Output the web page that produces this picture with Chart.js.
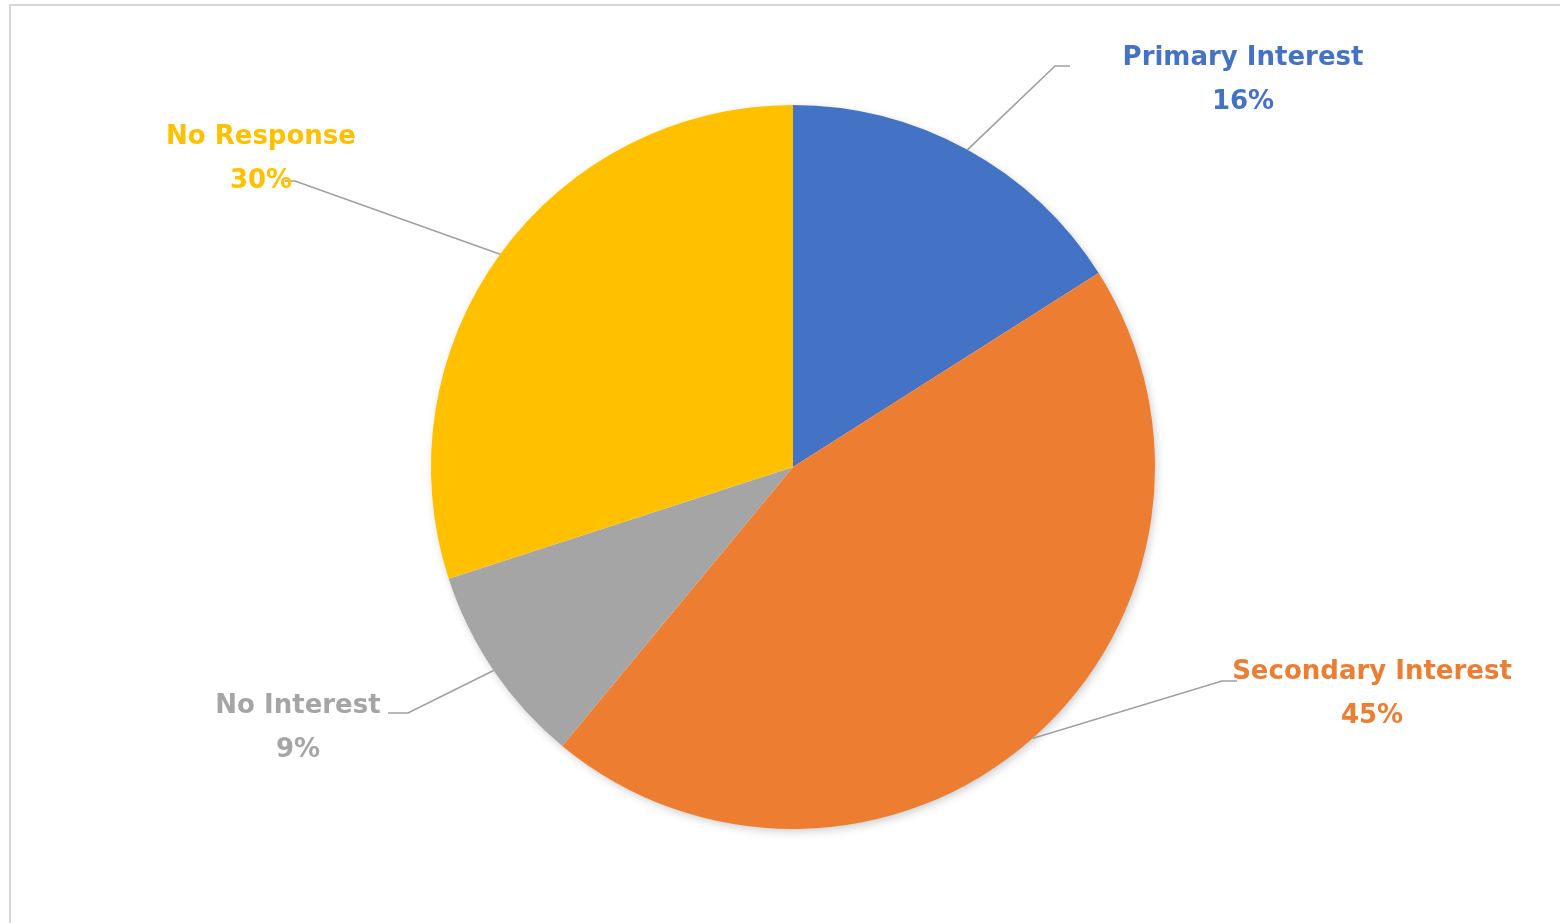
<!DOCTYPE html>
<html>
<head>
<meta charset="utf-8">
<script src="https://cdn.jsdelivr.net/npm/chart.js@4.4.0/dist/chart.umd.min.js"></script>
<style>
  html, body { margin: 0; padding: 0; background: #ffffff; }
  #frame { position: absolute; left: 9px; top: 4px; width: 1560px; height: 930px; border-left: 2px solid #d6d6d6; border-top: 2px solid #d6d6d6; box-sizing: border-box; }
  #wrap { position: absolute; left: 0; top: 0; width: 1560px; height: 923px; }
</style>
</head>
<body>
<div id="frame"></div>
<div id="wrap"><canvas id="c" width="1560" height="923"></canvas></div>
<script>
const categories = ["Primary Interest", "Secondary Interest", "No Interest", "No Response"];
const values = [16, 45, 9, 30];
const colors = ["#4472C4", "#ED7D31", "#A5A5A5", "#FFC000"];

// label layout: offsets from pie centre (px): text centre of first line, elbow point, end of horizontal segment
const labelLayout = [
  { tx: 450, ty: -409, ex: 262, ey: -401, hx: 277 },
  { tx: 579, ty: 205, ex: 429, ey: 214, hx: 444 },
  { tx: -495, ty: 239, ex: -385, ey: 246, hx: -405 },
  { tx: -532, ty: -330, ex: -498, ey: -286, hx: -508 }
];

const shadowPlugin = {
  id: 'pieShadow',
  beforeDatasetsDraw(chart) {
    const arc = chart.getDatasetMeta(0).data[0];
    if (!arc) return;
    const { x, y, outerRadius } = arc.getProps(['x', 'y', 'outerRadius'], true);
    const ctx = chart.ctx;
    ctx.save();
    ctx.shadowColor = 'rgba(0,0,0,0.22)';
    ctx.shadowBlur = 10;
    ctx.shadowOffsetX = 2;
    ctx.shadowOffsetY = 3;
    ctx.fillStyle = '#ffffff';
    ctx.beginPath();
    ctx.arc(x, y, outerRadius - 1, 0, Math.PI * 2);
    ctx.fill();
    ctx.restore();
  }
};

const labelPlugin = {
  id: 'leaderLabels',
  afterDatasetsDraw(chart) {
    const ctx = chart.ctx;
    const meta = chart.getDatasetMeta(0);
    const total = values.reduce((a, b) => a + b, 0);
    meta.data.forEach((arc, i) => {
      const p = arc.getProps(['x', 'y', 'startAngle', 'endAngle', 'outerRadius'], true);
      const mid = (p.startAngle + p.endAngle) / 2;
      const sx = p.x + Math.cos(mid) * p.outerRadius;
      const sy = p.y + Math.sin(mid) * p.outerRadius;
      const L = labelLayout[i];
      ctx.save();
      ctx.strokeStyle = '#a0a0a4';
      ctx.lineWidth = 1.7;
      ctx.beginPath();
      ctx.moveTo(sx, sy);
      ctx.lineTo(p.x + L.ex, p.y + L.ey);
      ctx.lineTo(p.x + L.hx, p.y + L.ey);
      ctx.stroke();
      ctx.fillStyle = colors[i];
      ctx.font = 'bold 26px "DejaVu Sans"';
      ctx.textAlign = 'center';
      ctx.textBaseline = 'middle';
      ctx.fillText(categories[i], p.x + L.tx, p.y + L.ty);
      const pct = Math.round(values[i] / total * 100) + '%';
      ctx.fillText(pct, p.x + L.tx, p.y + L.ty + 44);
      ctx.restore();
    });
  }
};

new Chart(document.getElementById('c'), {
  type: 'pie',
  data: {
    labels: categories,
    datasets: [{
      data: values,
      backgroundColor: colors,
      borderWidth: 0,
      hoverOffset: 0
    }]
  },
  options: {
    responsive: false,
    animation: false,
    layout: { padding: { top: 105, bottom: 94, left: 400, right: 374 } },
    plugins: {
      legend: { display: false },
      tooltip: { enabled: false }
    }
  },
  plugins: [shadowPlugin, labelPlugin]
});
</script>
</body>
</html>
